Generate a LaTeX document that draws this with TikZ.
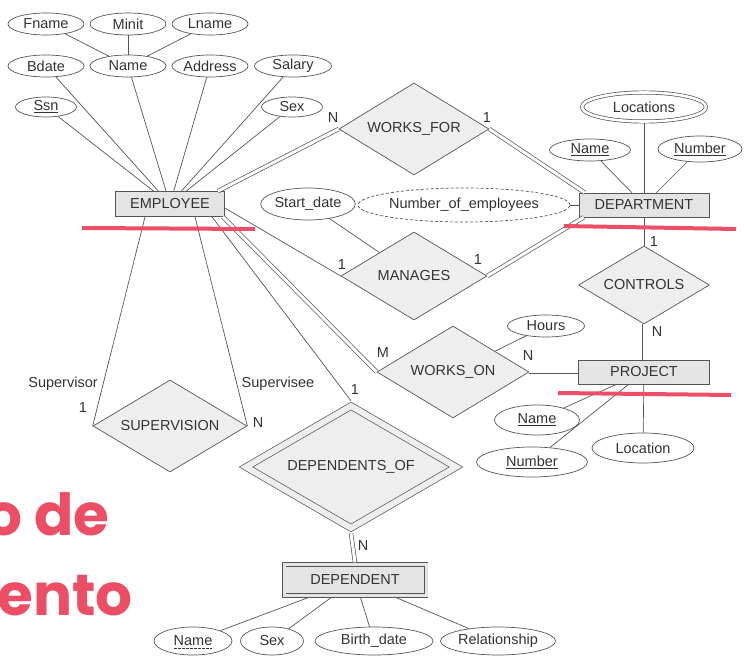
\documentclass[tikz,border=0pt]{standalone}
\usepackage{fontspec}
\setmainfont{Liberation Sans}
\newfontfamily\slidefont{Poppins}
\usetikzlibrary{positioning,shapes.geometric}
\definecolor{linegray}{HTML}{555555}
\definecolor{entfill}{HTML}{E4E4E4}
\definecolor{relfill}{HTML}{EEEEEE}
\definecolor{slidered}{HTML}{EC4F65}
\tikzset{
  attr/.style={ellipse, draw=linegray, fill=white, inner sep=0pt,
    minimum width=76, minimum height=22},
  entity/.style={rectangle, draw=linegray, fill=entfill, inner sep=0pt,
    minimum height=25},
  rel/.style={diamond, draw=linegray, fill=relfill, aspect=1.6, inner sep=0pt},
  card/.style={inner sep=0pt},
  link/.style={draw=linegray},
  twice/.style={link, double=white, double distance=3pt},
  partkey/.style={draw=black!80, line width=0.6pt, dash pattern=on 2.5pt off 1.5pt},
  redbar/.style={slidered, line width=4pt},
  slide/.style={inner sep=0pt, text=slidered,
    font=\slidefont\bfseries\fontsize{58}{60}\selectfont}
}

\begin{document}
\begin{tikzpicture}[x=1pt,y=-1pt,line width=0.7pt,text=black!80,
    font=\fontsize{14.5}{17}\selectfont]
  \useasboundingbox (0,0) rectangle (745,668);
  \clip (0,0) rectangle (745,668);
  % entities
  \node[entity,minimum width=109] (emp) at (170,204) {EMPLOYEE};
  \node[entity,minimum width=130,minimum height=24] (dept) at (644,205) {DEPARTMENT};
  \node[entity,minimum width=131,minimum height=24] (proj) at (644,372) {PROJECT};
  \node[entity,double=entfill,double distance=3pt,outer sep=2.2pt,
    minimum width=142,minimum height=31] (dep) at (355,580) {DEPENDENT};
  % relationships
  \node[rel,minimum width=150,minimum height=92] (wf) at (414,129) {WORKS\_FOR};
  \node[rel,minimum width=146,minimum height=88] (mgr) at (414,276) {MANAGES};
  \node[rel,minimum width=152,minimum height=92] (wo) at (453,372) {WORKS\_ON};
  \node[rel,minimum width=131,minimum height=78] (ctrl) at (644,285) {CONTROLS};
  \node[rel,minimum width=154,minimum height=92] (sup) at (170,426) {SUPERVISION};
  \node[rel,double=relfill,double distance=6pt,outer sep=3.7pt,
    minimum width=213,minimum height=125] (depof) at (351,467) {DEPENDENTS\_OF};
  % attributes
  \node[attr] (fname) at (46,24) {Fname};
  \node[attr] (minit) at (128,24) {Minit};
  \node[attr] (lname) at (210,24) {Lname};
  \node[attr] (bdate) at (46,66) {Bdate};
  \node[attr] (name) at (128,66) {Name};
  \node[attr] (address) at (210,66) {Address};
  \node[attr,minimum width=77] (salary) at (293,66) {Salary};
  \node[attr,minimum width=61,minimum height=20] (ssn) at (46,107) {\underline{Ssn}};
  \node[attr,minimum width=61,minimum height=20] (sex) at (292,107) {Sex};
  \node[attr,minimum width=83,minimum height=32] (sdate) at (308,204) {Start\_date};
  \node[attr,dash pattern=on 3pt off 2pt,minimum width=177,minimum height=34]
    (nemp) at (464,205) {Number\_of\_employees};
  \node[attr,double=white,double distance=2.6pt,outer sep=2pt,minimum width=124,
    minimum height=29] (loc) at (644,107) {Locations};
  \node[attr,minimum width=81] (dname) at (590,150) {\underline{Name}};
  \node[attr,minimum width=84,minimum height=26] (dnum) at (700,149) {\underline{Number}};
  \node[attr,minimum width=77] (hours) at (546,326) {Hours};
  \node[attr,minimum width=85,minimum height=30] (pname) at (537,420) {\underline{Name}};
  \node[attr,minimum width=111,minimum height=30] (pnum) at (532,462) {\underline{Number}};
  \node[attr,minimum width=102,minimum height=30] (ploc) at (643,448) {Location};
  \node[attr,minimum width=78,minimum height=28] (dpname) at (193,641) {Name};
  \node[attr,minimum width=63,minimum height=28] (dpsex) at (272,641) {Sex};
  \node[attr,minimum width=118,minimum height=28] (dpbirth) at (374,641) {Birth\_date};
  \node[attr,minimum width=115,minimum height=28] (dprel) at (498,641) {Relationship};
  \draw[partkey] ([xshift=-19pt,yshift=-7.5pt]dpname.center)
    -- ([xshift=19pt,yshift=-7.5pt]dpname.center);
  % attribute links
  \foreach \a in {fname,minit,lname} \draw[link] (name) -- (\a);
  \foreach \a in {ssn,bdate,name,address,salary,sex} \draw[link] (emp) -- (\a);
  \foreach \a in {loc,dname,dnum,nemp} \draw[link] (dept) -- (\a);
  \foreach \a in {pname,pnum,ploc} \draw[link] (proj) -- (\a);
  \foreach \a in {dpname,dpsex,dpbirth,dprel} \draw[link] (dep) -- (\a);
  \draw[link] (sdate) -- (mgr);
  \draw[link] (hours) -- (wo);
  % relationship links
  \draw[twice] ([xshift=-7pt]emp.north east) -- (wf.west);
  \draw[twice] (wf.east) -- ([xshift=6pt]dept.north west);
  \draw[link] ([yshift=-4pt]emp.east) -- (mgr.west);
  \draw[twice] (mgr.east) -- ([xshift=5pt]dept.south west);
  \draw[twice] ([xshift=-2pt]emp.south east) -- (wo.west);
  \draw[twice] (wo.east) -- (proj.west);
  \draw[link] (dept) -- (ctrl);
  \draw[twice] (ctrl.south) -- (proj.north);
  \draw[link] ([xshift=-25pt]emp.south) -- (sup.west);
  \draw[link] ([xshift=25pt]emp.south) -- (sup.east);
  \draw[link] ([xshift=42pt]emp.south) -- (depof.north);
  \draw[twice] (depof.south) -- (dep.north);
  % cardinalities and roles
  \node[card] (nwf) at (333,118) {N};
  \node[card] (owf) at (487,118) {1};
  \node[card] (omga) at (342,265) {1};
  \node[card] (omgb) at (478,260) {1};
  \node[card] (mwo) at (383,353) {M};
  \node[card] (nwo) at (528,356) {N};
  \node[card] (oct) at (654,242) {1};
  \node[card] (nct) at (657,332) {N};
  \node[card] (lsup) at (63,384) {Supervisor};
  \node[card] (osup) at (83,408) {1};
  \node[card] (lsub) at (278,384) {Supervisee};
  \node[card] (nsup) at (258,423) {N};
  \node[card] (odo) at (355,390) {1};
  \node[card] (ndo) at (363,546) {N};
  % slide overlay
  \draw[redbar] (82,228) -- (255,229);
  \draw[redbar] (564,226) -- (736,229);
  \draw[redbar] (558,393) -- (731,395);
  \node[slide,anchor=base east] (slidea) at (110,535) {o de};
  \node[slide,anchor=base west] (slideb) at (-3,615) {ento};
\end{tikzpicture}
\end{document}
